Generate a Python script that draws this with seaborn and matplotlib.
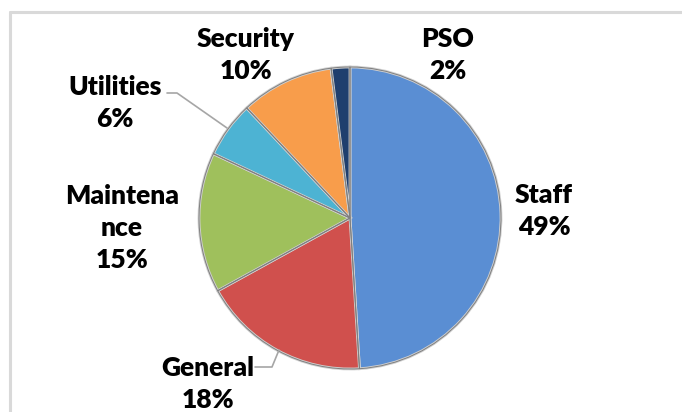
import matplotlib
matplotlib.use("Agg")
import matplotlib.pyplot as plt
import seaborn as sns
from matplotlib.lines import Line2D

# ---- data ----
categories = ["Staff", "General", "Maintenance", "Utilities", "Security", "PSO"]
values = [49, 18, 15, 6, 10, 2]
label_texts = ["Staff\n49%", "General\n18%", "Maintena\nnce\n15%", "Utilities\n6%", "Security\n10%", "PSO\n2%"]
colors = ["#5A8ED3", "#D0504D", "#9FC05C", "#4DB3D3", "#F89D4B", "#1F3F6E"]

# ---- layout (pixels, y from top) ----
W, H = 682, 412
pie_cx, pie_cy, pie_r = 350, 218, 151
label_pos = [(544, 211), (208, 384), (122, 228), (115, 103), (246, 55), (448, 55)]
leaders = [None,
           [(255, 367), (272, 367), (279, 350)],
           None,
           [(167, 93), (177, 93), (227, 128)],
           None, None]

sns.set_theme(style="white")
plt.rcParams["font.family"] = ["Lato", "DejaVu Sans"]

fig = plt.figure(figsize=(W / 100, H / 100), dpi=100)
fig.patch.set_facecolor("white")

def fx(x):
    return x / W

def fy(y):
    return 1 - y / H

# chart border
fig.add_artist(Line2D([fx(10), fx(10)], [fy(12), fy(H + 5)], color="#d9d9d9", lw=2.2, transform=fig.transFigure))
fig.add_artist(Line2D([fx(10), fx(W + 5)], [fy(12), fy(12)], color="#d9d9d9", lw=2.2, transform=fig.transFigure))

ax = fig.add_axes([fx(pie_cx - pie_r), fy(pie_cy + pie_r), 2 * pie_r / W, 2 * pie_r / H])
wedges, _ = ax.pie(values, colors=colors, startangle=90, counterclock=False,
                   radius=1.0,
                   wedgeprops=dict(edgecolor="#d0d0d0", linewidth=2.0))
outer, _ = ax.pie(values, startangle=90, counterclock=False, radius=1.0,
                  wedgeprops=dict(fill=False, edgecolor="#7f7f7f", linewidth=0.7))
ax.set_xlim(-1.0, 1.0)
ax.set_ylim(-1.0, 1.0)
ax.set_aspect("equal")
ax.axis("off")
for w in wedges + outer:
    w.set_clip_on(False)

for txt, (x, y) in zip(label_texts, label_pos):
    fig.text(fx(x), fy(y), txt, ha="center", va="center", fontsize=19,
             fontweight="heavy", color="black", linespacing=1.4)

for ld in leaders:
    if ld is None:
        continue
    xs = [fx(p[0]) for p in ld]
    ys = [fy(p[1]) for p in ld]
    fig.add_artist(Line2D(xs, ys, color="#a6a6a6", lw=1.2, transform=fig.transFigure))

fig.savefig("out.png", dpi=100, facecolor="white")
